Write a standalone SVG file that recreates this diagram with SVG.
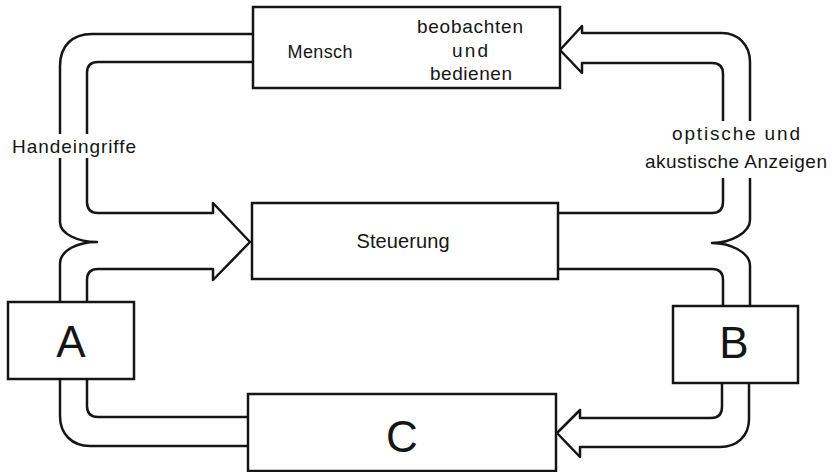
<svg xmlns="http://www.w3.org/2000/svg" width="832" height="472" viewBox="0 0 832 472">
<style>
.ln{fill:none;stroke:#151515;stroke-width:2.5;stroke-linejoin:round;stroke-linecap:round}
.box{fill:#fff;stroke:#151515;stroke-width:2.5}
.t{font-family:"Liberation Sans",Arial,sans-serif;fill:#151515}
.s{font-size:19px}
.big{font-size:44px;text-anchor:middle}
.bg{fill:#fff;stroke:none}
</style>
<rect width="832" height="472" fill="#fff"/>
<g id="connectors">
  <!-- left: Mensch -> Steuerung (Handeingriffe), A -> Steuerung -->
  <path class="ln" d="M253,34 H92 C72,34 60,46 60,66 V222 C60,234 78,242 97,242 C78,242 60,250 60,264 V302"/>
  <path class="ln" d="M253,62 H98 Q87,62 87,73 V202 Q87,213 98,213 H213 V203 L250,242 L213,280 V269 H98 Q87,269 87,280 V302"/>
  <!-- C -> A -->
  <path class="ln" d="M87,379 V406 Q87,417 98,417 H248"/>
  <path class="ln" d="M60,379 V416 C60,434 72,446 90,446 H248"/>
  <!-- right: Steuerung -> Mensch (optische und akustische Anzeigen), Steuerung -> B -->
  <path class="ln" d="M560,50 L582,26 V33 H722 C738,33 750,45 750,62 V220 C750,233 730,243 712,243 C730,243 750,252 750,266 V306"/>
  <path class="ln" d="M560,50 L582,73 V63 H712 Q723,63 723,74 V202 Q723,213 712,213 H558"/>
  <path class="ln" d="M558,269 H712 Q723,269 723,280 V306"/>
  <!-- B -> C -->
  <path class="ln" d="M722,383 V407 Q722,418 711,418 H580 V410 L557,433 L580,457 V447 H720 C737,447 749,436 749,419 V383"/>
</g>
<g id="label-handeingriffe">
  <rect class="bg" x="8" y="134" width="134" height="24"/>
  <text class="t" x="12" y="153" font-size="19" textLength="124" lengthAdjust="spacing">Handeingriffe</text>
</g>
<g id="label-anzeigen">
  <rect class="bg" x="641" y="121" width="190" height="57"/>
  <text class="t" x="736" y="140" font-size="19" text-anchor="middle" textLength="128" lengthAdjust="spacing">optische und</text>
  <text class="t" x="736" y="168" font-size="19" text-anchor="middle" textLength="182" lengthAdjust="spacing">akustische Anzeigen</text>
</g>
<g id="mensch">
  <rect class="box" x="253" y="7" width="307" height="81"/>
  <text class="t" x="320" y="58" font-size="18" text-anchor="middle" textLength="65" lengthAdjust="spacing">Mensch</text>
  <text class="t s" x="470" y="33" text-anchor="middle" textLength="106" lengthAdjust="spacing">beobachten</text>
  <text class="t s" x="470" y="57" text-anchor="middle" textLength="36" lengthAdjust="spacing">und</text>
  <text class="t s" x="471" y="80" text-anchor="middle" textLength="82" lengthAdjust="spacing">bedienen</text>
</g>
<g id="steuerung">
  <rect class="box" x="252" y="203" width="306" height="76"/>
  <text class="t" x="403" y="248" font-size="20" text-anchor="middle" textLength="93" lengthAdjust="spacing">Steuerung</text>
</g>
<g id="A">
  <rect class="box" x="8" y="302" width="126" height="77"/>
  <text class="t big" x="71" y="357">A</text>
</g>
<g id="B">
  <rect class="box" x="673" y="306" width="125" height="77"/>
  <text class="t big" x="734" y="358">B</text>
</g>
<g id="C">
  <rect class="box" x="248" y="394" width="308" height="77"/>
  <text class="t big" x="402" y="452">C</text>
</g>
</svg>
